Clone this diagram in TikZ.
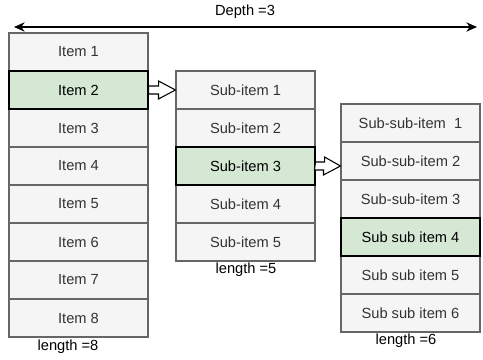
\documentclass[tikz,border=0pt]{standalone}
\usepackage{fontspec}
\setmainfont{Liberation Sans}
\usetikzlibrary{calc,arrows.meta}
\definecolor{cellfill}{HTML}{F5F5F5}
\definecolor{cellstroke}{HTML}{666666}
\definecolor{celltext}{HTML}{333333}
\definecolor{greenfill}{HTML}{D5E8D4}
\tikzset{
  cell/.style={draw=cellstroke, fill=cellfill, text=celltext, minimum width=104.25pt, minimum height=28.5pt, inner sep=0pt, font=\fontsize{11}{13}\selectfont, line width=0.8pt},
  hcell/.style={cell, draw=black, fill=greenfill, text=black},
  lbl/.style={inner sep=0pt, font=\fontsize{11}{13}\selectfont, text=black},
  blockarrow/.style={draw=black, fill=white, line width=0.8pt, line join=miter},
  deptharrow/.style={draw=black, line width=0.8pt, {Stealth[length=8pt,width=7pt]}-{Stealth[length=8pt,width=7pt]}}
}
\begin{document}
\begin{tikzpicture}[x=0.75pt,y=-0.75pt]
\useasboundingbox (0,0) rectangle (483,360);
% column 1
\node[cell] (i1) at (78.5,52) {Item 1};
\node[cell] (i3) at (78.5,128) {Item 3};
\node[cell] (i4) at (78.5,166) {Item 4};
\node[cell] (i5) at (78.5,204) {Item 5};
\node[cell] (i6) at (78.5,242) {Item 6};
\node[cell] (i7) at (78.5,280) {Item 7};
\node[cell] (i8) at (78.5,318) {Item 8};
\node[hcell] (i2) at (78.5,90) {Item 2};
% column 2
\node[cell] (s1) at (245.5,90) {Sub-item 1};
\node[cell] (s2) at (245.5,128) {Sub-item 2};
\node[cell] (s4) at (245.5,204) {Sub-item 4};
\node[cell] (s5) at (245.5,242) {Sub-item 5};
\node[hcell] (s3) at (245.5,166) {Sub-item 3};
% column 3
\node[cell] (t1) at (410.5,123) {Sub-sub-item\ \ 1};
\node[cell] (t2) at (410.5,161) {Sub-sub-item 2};
\node[cell] (t3) at (410.5,199) {Sub-sub-item 3};
\node[cell] (t5) at (410.5,275) {Sub sub item 5};
\node[cell] (t6) at (410.5,313) {Sub sub item 6};
\node[hcell] (t4) at (410.5,237) {Sub sub item 4};
% labels
\node[lbl] (l1) at (68,347) {length =8};
\node[lbl] (l2) at (246,270) {length =5};
\node[lbl] (l3) at (406,341) {length =6};
\node[lbl] (dl) at (245,12) {Depth =3};
% depth arrow
\coordinate (da) at (14,27);
\coordinate (db) at (477,27);
\draw[deptharrow] (da) -- (db);
% block arrows
\draw[blockarrow] ($(i2.east)+(0,-4)$) -- ++(10,0) -- ++(0,-5) -- (s1.west) -- ++(-17,9) -- ++(0,-5) -- ++(-10,0) -- cycle;
\coordinate (tip2) at (s3.east -| t2.west);
\draw[blockarrow] ($(s3.east)+(0,-4)$) -- ++(9,0) -- ++(0,-5) -- (tip2) -- ++(-17,9) -- ++(0,-5) -- ++(-9,0) -- cycle;
\end{tikzpicture}
\end{document}
